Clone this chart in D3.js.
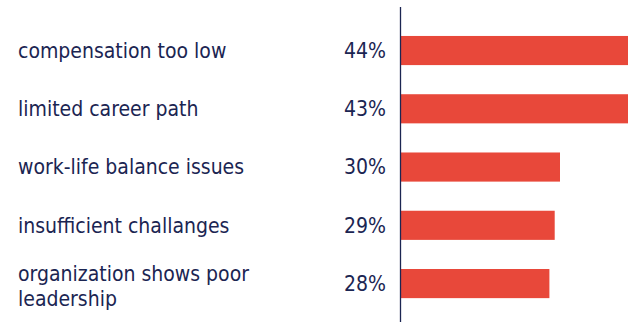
<!DOCTYPE html>
<html>
<head>
<meta charset="utf-8">
<script src="https://cdn.jsdelivr.net/npm/d3@7"></script>
<style>
  html, body { margin: 0; padding: 0; background: #fff; }
  svg { display: block; }
  text { font-family: "DejaVu Sans Condensed", "Liberation Sans", Arial, sans-serif; fill: #1b2552; }
</style>
</head>
<body>
<div id="chart"></div>
<script>
// reasons for leaving, share of respondents (%)
var categories = [
    ["compensation too low"],
    ["limited career path"],
    ["work-life balance issues"],
    ["insufficient challanges"],
    ["organization shows poor", "leadership"]
];
var values = [44, 43, 30, 29, 28];
var valueLabels = ["44%", "43%", "30%", "29%", "28%"];

var width = 628, height = 322;
var barColor = "#e8483a";
var axisColor = "#1b2552";

var svg = d3.select("#chart").append("svg")
    .attr("width", width)
    .attr("height", height);

var keys = categories.map(function (d) { return d.join(" "); });

var yScale = d3.scaleBand()
    .domain(keys)
    .range([21.4, 312.7])
    .paddingInner(0.5)
    .paddingOuter(0.25);

var xScale = d3.scaleLinear()
    .domain([0, 100])
    .range([401, 401 + 530]);

// bars (the two long ones run off the right edge)
svg.append("g").selectAll("rect")
    .data(values)
    .enter().append("rect")
    .attr("x", xScale(0))
    .attr("y", function (d, i) { return yScale(keys[i]); })
    .attr("width", function (d) { return xScale(d) - xScale(0); })
    .attr("height", yScale.bandwidth())
    .attr("fill", barColor);

// vertical axis line
svg.append("line")
    .attr("x1", xScale(0) - 0.5)
    .attr("x2", xScale(0) - 0.5)
    .attr("y1", 7)
    .attr("y2", height)
    .attr("stroke", axisColor)
    .attr("stroke-width", 1.3);

// category labels
var lineHeight = 25;
var catLabels = svg.append("g").selectAll("text")
    .data(categories)
    .enter().append("text")
    .attr("x", 18)
    .attr("y", function (d, i) { return yScale(keys[i]) + yScale.bandwidth() / 2; })
    .attr("font-size", "21px");

catLabels.each(function (lines) {
    var t = d3.select(this);
    var y = +t.attr("y");
    // wrapped labels sit a touch lower than the bar centre
    var startY = y - (lines.length - 1) * lineHeight / 2 + (lines.length > 1 ? 3 : 0);
    lines.forEach(function (l, j) {
        t.append("tspan")
            .attr("x", 18)
            .attr("y", startY + j * lineHeight)
            .attr("dy", "0.35em")
            .text(l);
    });
});

// value labels
svg.append("g").selectAll("text")
    .data(valueLabels)
    .enter().append("text")
    .attr("x", 386)
    .attr("y", function (d, i) { return yScale(keys[i]) + yScale.bandwidth() / 2; })
    .attr("dy", "0.35em")
    .attr("text-anchor", "end")
    .attr("font-size", "21px")
    .text(function (d) { return d; });
</script>
</body>
</html>
